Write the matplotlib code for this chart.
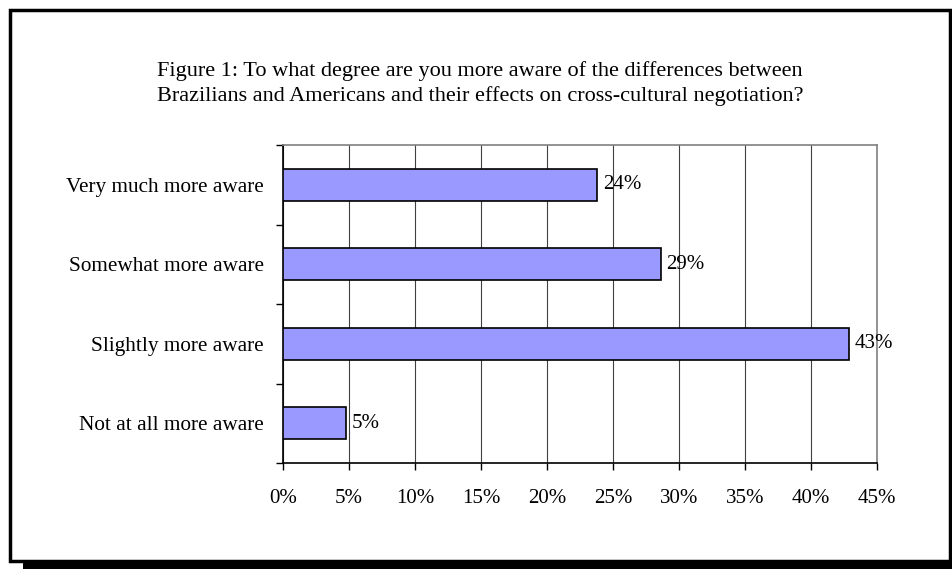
import matplotlib
matplotlib.use("Agg")
import matplotlib.pyplot as plt
from matplotlib.patches import Rectangle
from matplotlib.ticker import FixedLocator, PercentFormatter

# survey answers, top to bottom
categories = ["Very much more aware", "Somewhat more aware",
              "Slightly more aware", "Not at all more aware"]
shares = [23.8, 28.6, 42.9, 4.8]
x_ticks = [0, 5, 10, 15, 20, 25, 30, 35, 40, 45]
title_lines = ["Figure 1: To what degree are you more aware of the differences between",
               "Brazilians and Americans and their effects on cross-cultural negotiation?"]

plt.rcParams['font.family'] = ['Liberation Serif', 'DejaVu Serif']

W, H = 953, 569
fig = plt.figure(figsize=(W / 100, H / 100), dpi=100)

def px(x0, y0, x1, y1):
    # pixel box (top-left origin) -> figure fraction rect
    return [x0 / W, 1 - y1 / H, (x1 - x0) / W, (y1 - y0) / H]

# outer frame with drop shadow
shadow = Rectangle((23 / W, 0), 1 - 23 / W, 8 / H, transform=fig.transFigure,
                   facecolor='black', edgecolor='none', zorder=0)
frame = Rectangle((10 / W, 1 - 561 / H), (950 - 10) / W, (561 - 10) / H,
                  transform=fig.transFigure, facecolor='none',
                  edgecolor='black', linewidth=2.5, zorder=0)
fig.patches.extend([shadow, frame])

fig.text(480 / W, 1 - 71 / H, title_lines[0], ha='center', va='center', fontsize=16)
fig.text(480 / W, 1 - 96 / H, title_lines[1], ha='center', va='center', fontsize=16)

ax = fig.add_axes(px(283, 145, 877, 463))
pos = list(range(len(categories)))
bars = ax.barh(pos, shares, height=0.4, color='#9999FF',
               edgecolor='black', linewidth=1.2, zorder=3)
for b, v in zip(bars, shares):
    ax.annotate(f"{round(v)}%", (b.get_width(), b.get_y() + b.get_height() / 2),
                xytext=(4, 0), textcoords='offset points',
                va='center', ha='left', fontsize=15, zorder=4)

ax.set_xlim(0, 45)
ax.set_ylim(3.5, -0.5)
ax.set_xticks(x_ticks)
ax.xaxis.set_major_formatter(PercentFormatter(decimals=0))
ax.set_yticks(pos)
ax.set_yticklabels(categories)
ax.yaxis.set_minor_locator(FixedLocator([-0.5, 0.5, 1.5, 2.5, 3.5]))
ax.tick_params(axis='y', which='major', length=0, pad=14, labelsize=15.3)
ax.tick_params(axis='y', which='minor', length=5, width=1, direction='out')
ax.tick_params(axis='x', length=5, width=1, direction='out', pad=14,
               labelsize=15)

ax.grid(axis='x', color='#404040', linewidth=0.8, zorder=0)
ax.set_axisbelow(True)
for s in ['left', 'bottom']:
    ax.spines[s].set_color('black')
    ax.spines[s].set_linewidth(1.2)
for s in ['top', 'right']:
    ax.spines[s].set_color('#808080')
    ax.spines[s].set_linewidth(1.2)

fig.savefig("out.png", dpi=100)
